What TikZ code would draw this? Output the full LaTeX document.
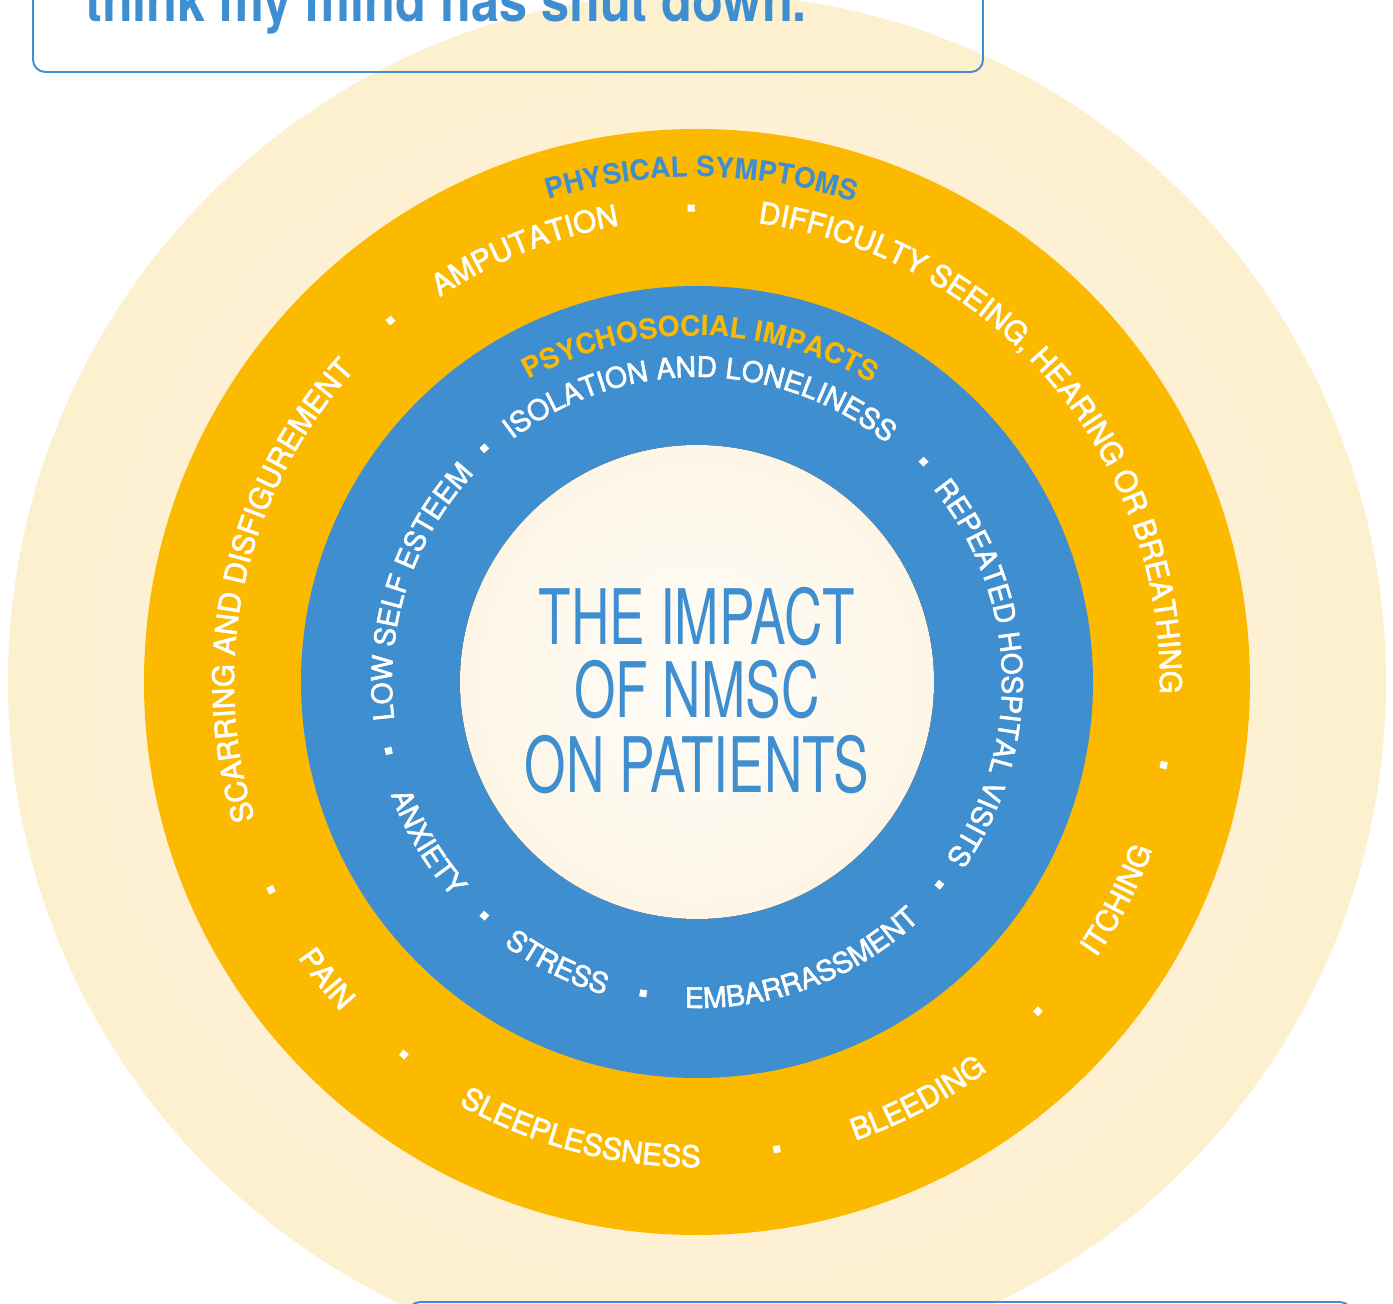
\documentclass[tikz,border=0pt]{standalone}
\usepackage{fontspec}
\usepackage{tikz}
\usetikzlibrary{decorations.text}

\setmainfont{TeX Gyre Heros}
\newfontfamily\ringfont[FakeBold=2]{TeX Gyre Heros}
\newfontfamily\titlefont[FakeStretch=0.695]{TeX Gyre Heros}
\newfontfamily\quotefont[FakeStretch=0.87]{TeX Gyre Heros}
\newcommand{\outfont}{\ringfont\fontsize{16.9}{18}\selectfont}
\newcommand{\infont}{\ringfont\fontsize{16.1}{18}\selectfont}
\newcommand{\headfont}{\fontsize{16}{18}\selectfont\bfseries}

\definecolor{nmscblue}{HTML}{3F8FD0}
\definecolor{nmscgold}{HTML}{FBBA00}
\definecolor{nmscpale}{HTML}{FDF0CF}
\definecolor{nmscpaler}{HTML}{FEF1D3}
\definecolor{nmsccream}{HTML}{FDF6E6}

\begin{document}
\begin{tikzpicture}[x=0.02cm, y=0.02cm,
		sepdot/.style={fill=white, inner sep=0pt, minimum size=4pt},
		outtext/.style={decorate, decoration={text along path, text align=center, text color=white, text={|\outfont|#1}}},
		intext/.style={decorate, decoration={text along path, text align=center, text color=white, text={|\infont|#1}}},
		headtext/.style 2 args={decorate, decoration={text along path, text align=center, text color=#1, text={|\headfont|#2}}},
		titleline/.style={text=nmscblue, font=\titlefont\fontsize{43.6}{44}\selectfont, anchor=base, inner sep=0pt}]
		
		\clip (-697,-622) rectangle (696,682);
		
		% Set the rings, from the outside in
		\fill[nmscpale] (0,0) circle (689);
		\fill[nmscpaler] (0,0) circle (612);
		\fill[nmscgold] (0,0) circle (553);
		\fill[nmscblue] (0,0) circle (396);
		\fill[inner color=white!75!nmsccream, outer color=nmsccream] (0,0) circle (237);
		
		% Title in the middle
		\node[titleline] (title1) at (0,37) {THE IMPACT};
		\node[titleline] (title2) at (0,-36) {OF NMSC};
		\node[titleline] (title3) at (0,-111) {ON PATIENTS};
		
		% Ring headings
		\path[headtext={nmscblue}{PHYSICAL SYMPTOMS}] (159.5:505) arc[start angle=159.5, delta angle=-140, radius=505];
		\path[headtext={nmscgold}{PSYCHOSOCIAL IMPACTS}] (159.4:346) arc[start angle=159.4, delta angle=-140, radius=346];
		
		% Outer ring labels
		\path[outtext=AMPUTATION] (181.7:463) arc[start angle=181.7, delta angle=-140, radius=463];
		\path[outtext={DIFFICULTY SEEING{,} HEARING OR BREATHING}] (110.5:463) arc[start angle=110.5, delta angle=-140, radius=463];
		\path[outtext=SCARRING AND DISFIGUREMENT] (237.4:463) arc[start angle=237.4, delta angle=-140, radius=463];
		\path[outtext=ITCHING] (-97.4:485) arc[start angle=-97.4, delta angle=140, radius=485];
		\path[outtext=BLEEDING] (-132.1:485) arc[start angle=-132.1, delta angle=140, radius=485];
		\path[outtext=SLEEPLESSNESS] (-174.5:485) arc[start angle=-174.5, delta angle=140, radius=485];
		\path[outtext=PAIN] (-211.3:485) arc[start angle=-211.3, delta angle=140, radius=485];
		
		% Inner ring labels
		\path[intext=ISOLATION AND LONELINESS] (159.4:305) arc[start angle=159.4, delta angle=-140, radius=305];
		\path[intext=REPEATED HOSPITAL VISITS] (72:305) arc[start angle=72, delta angle=-140, radius=305];
		\path[intext=LOW SELF ESTEEM] (232:305) arc[start angle=232, delta angle=-140, radius=305];
		\path[intext=EMBARRASSMENT] (-139.5:326) arc[start angle=-139.5, delta angle=140, radius=326];
		\path[intext=STRESS] (-186.4:326) arc[start angle=-186.4, delta angle=140, radius=326];
		\path[intext=ANXIETY] (-219.2:326) arc[start angle=-219.2, delta angle=140, radius=326];
		
		% Dots between the labels
		\foreach \a [count=\i] in {90.7,-10.1,-44,-80.3,-128.2,-154,130.3}
		\node[sepdot, rotate=\a] (odot\i) at (\a:474) {};
		\foreach \a [count=\i] in {132.3,44.2,-39.9,-99.8,-132.3,-167.4}
		\node[sepdot, rotate=\a] (idot\i) at (\a:316) {};
		
		% Quote box at the top, cut by the page
		\draw[nmscblue, line width=1.1pt, rounded corners=7pt] (-664,610) rectangle (286,800);
		\node[anchor=base west, inner sep=0pt, text=nmscblue, font=\quotefont\bfseries\fontsize{33}{36}\selectfont] (quote) at (-612,660) {think my mind has shut down.};
		
		% Box at the bottom, only its top edge shows
		\draw[nmscblue, line width=1.1pt, rounded corners=7pt] (-289,-620) rectangle (655,-720);
		
	\end{tikzpicture}
\end{document}
